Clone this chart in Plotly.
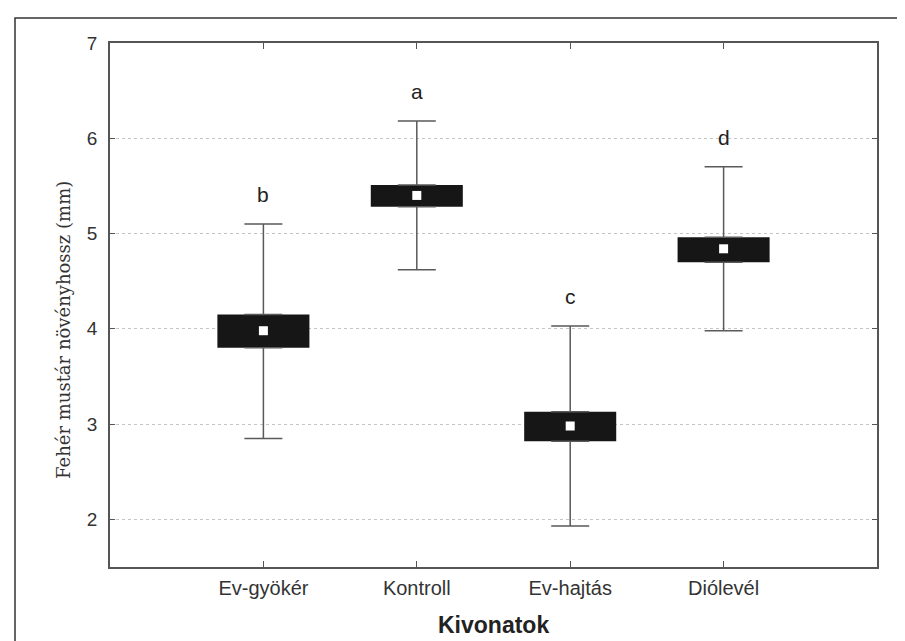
import plotly.graph_objects as go

categories = ["Ev-gyökér", "Kontroll", "Ev-hajtás", "Diólevél"]
means = [3.98, 5.40, 2.98, 4.84]
box_low = [3.80, 5.28, 2.82, 4.70]
box_high = [4.15, 5.51, 3.13, 4.96]
whisker_low = [2.85, 4.62, 1.93, 3.98]
whisker_high = [5.10, 6.18, 4.03, 5.70]
letters = ["b", "a", "c", "d"]
y_ticks = [2, 3, 4, 5, 6, 7]

xpos = list(range(len(categories)))

# plot area in pixels
W, H = 905, 641
L, R, T, B = 102, 869, 35, 559
pw, ph = R - L, B - T

fig = go.Figure()

# boxes
fig.add_trace(go.Bar(
    x=xpos,
    y=[h - l for h, l in zip(box_high, box_low)],
    base=box_low,
    width=0.6,
    marker=dict(color="#161616", line=dict(width=0)),
    showlegend=False, hoverinfo="skip",
))

whisk = "#5a5a5a"
# upper whiskers
fig.add_trace(go.Scatter(
    x=xpos, y=box_high, mode="markers",
    marker=dict(size=1, opacity=0),
    error_y=dict(type="data", symmetric=False,
                 array=[w - b for w, b in zip(whisker_high, box_high)],
                 arrayminus=[0] * len(xpos),
                 color=whisk, thickness=1.5, width=19),
    showlegend=False, hoverinfo="skip",
))
# lower whiskers
fig.add_trace(go.Scatter(
    x=xpos, y=box_low, mode="markers",
    marker=dict(size=1, opacity=0),
    error_y=dict(type="data", symmetric=False,
                 array=[0] * len(xpos),
                 arrayminus=[b - w for w, b in zip(whisker_low, box_low)],
                 color=whisk, thickness=1.5, width=19),
    showlegend=False, hoverinfo="skip",
))
# means
fig.add_trace(go.Scatter(
    x=xpos, y=means, mode="markers",
    marker=dict(symbol="square", size=9, color="white", line=dict(width=0)),
    showlegend=False, hoverinfo="skip",
))

# significance letters
for xi, wh, lt in zip(xpos, whisker_high, letters):
    fig.add_annotation(x=xi, y=wh, text=lt, showarrow=False,
                       yanchor="bottom", yshift=16,
                       font=dict(family="Liberation Sans, Arial", size=21, color="#222"))

# axis titles as annotations
fig.add_annotation(xref="paper", yref="paper", x=0.5, y=(B - 617) / ph,
                   text="<b>Kivonatok</b>", showarrow=False,
                   xanchor="center", yanchor="middle",
                   font=dict(family="Liberation Sans, Arial", size=23, color="#222"))
fig.add_annotation(xref="paper", yref="paper", x=(56 - L) / pw, y=(B - 322) / ph,
                   text="Fehér mustár növényhossz (mm)", showarrow=False,
                   textangle=-90, xanchor="center", yanchor="middle",
                   font=dict(family="DejaVu Serif", size=18, color="#333"))

# outer frame (left and top)
fx0 = (7 - L) / pw
fy_top = (B - 10) / ph
fig.add_shape(type="path", xref="paper", yref="paper",
              path=f"M {fx0} {(B - 641) / ph} L {fx0} {fy_top} L {(W - L) / pw} {fy_top}",
              line=dict(color="#333", width=1.5))

axis_line = "#555"
fig.update_layout(
    width=W, height=H,
    margin=dict(l=L, r=W - R, t=T, b=H - B),
    paper_bgcolor="white", plot_bgcolor="white",
    xaxis=dict(
        range=[-1, 4], tickvals=xpos, ticktext=categories,
        showgrid=False, zeroline=False,
        showline=True, linecolor=axis_line, linewidth=1.5, mirror="ticks",
        ticks="inside", ticklen=6, tickcolor=axis_line, tickwidth=1,
        tickfont=dict(family="Liberation Sans, Arial", size=20, color="#333"),
        ticklabelstandoff=2,
    ),
    yaxis=dict(
        range=[1.5, 7], tickvals=y_ticks,
        showgrid=True, gridcolor="#c4c4c4", griddash="dot", gridwidth=1,
        zeroline=False,
        showline=True, linecolor=axis_line, linewidth=1.5, mirror="ticks",
        ticks="inside", ticklen=5, tickcolor=axis_line, tickwidth=1,
        tickfont=dict(family="Liberation Sans, Arial", size=19, color="#333"),
        ticklabelstandoff=7,
    ),
)

fig.write_html("out.html")
